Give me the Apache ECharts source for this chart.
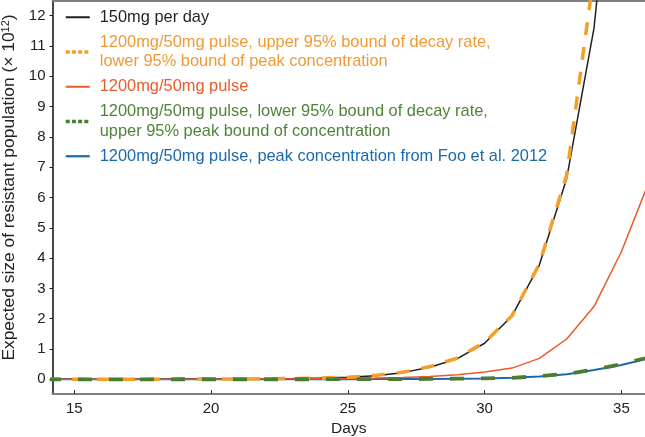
<!DOCTYPE html>
<html>
<head>
<meta charset="utf-8">
<script src="https://cdn.jsdelivr.net/npm/echarts@6/dist/echarts.min.js"></script>
<style>
html,body{margin:0;padding:0;background:#fff;}
#chart{width:645px;height:437px;}
</style>
</head>
<body>
<div id="chart"></div>
<script>
const days = [14,15,16,17,18,19,20,21,22,23,24,25,26,27,28,29,30,31,32,33,34,35,36];
const daily150 = [0.001,0.002,0.002,0.003,0.004,0.006,0.008,0.012,0.018,0.028,0.045,0.07,0.12,0.22,0.40,0.68,1.19,2.09,3.77,6.63,11.6,20.4,35.8];
const pulseUpperDecay = [0.001,0.002,0.002,0.003,0.004,0.006,0.008,0.012,0.018,0.028,0.045,0.07,0.13,0.23,0.42,0.70,1.22,2.10,3.80,6.75,13.4,24.0,42.0];
const pulse = [0.0,0.0,0.001,0.001,0.002,0.003,0.004,0.006,0.009,0.013,0.02,0.03,0.04,0.06,0.09,0.15,0.24,0.37,0.69,1.33,2.40,4.21,6.5];
const pulseLowerDecay = [0.0,0.0,0.0,0.0,0.0,0.001,0.001,0.001,0.002,0.002,0.003,0.004,0.006,0.008,0.012,0.02,0.03,0.05,0.10,0.18,0.32,0.50,0.72];
const pulseFoo = [0.0,0.0,0.0,0.0,0.0,0.001,0.001,0.001,0.002,0.002,0.003,0.004,0.006,0.008,0.012,0.02,0.03,0.05,0.09,0.17,0.31,0.47,0.69];
const seriesNames = [
  '150mg per day',
  '1200mg/50mg pulse, upper 95% bound of decay rate,\nlower 95% bound of peak concentration',
  '1200mg/50mg pulse',
  '1200mg/50mg pulse, lower 95% bound of decay rate,\nupper 95% peak bound of concentration',
  '1200mg/50mg pulse, peak concentration from Foo et al. 2012'
];
const xTicks = [15,20,25,30,35];

const colBlack = '#231f20', colOrange = '#f4a028', colRed = '#e95a2c', colGreen = '#4b7d31', colBlue = '#1a69ad';
const textOrange = '#ef9a36', textGreen = '#4e8438';
const font = '"Liberation Sans", Arial, Helvetica, sans-serif';

function pairs(ys){ return days.map((d,i)=>[d, ys[i]]); }

const chart = echarts.init(document.getElementById('chart'), null, {renderer:'canvas'});
chart.setOption({
  animation:false,
  backgroundColor:'#fff',
  textStyle:{fontFamily:font},
  grid:{left:52.5, right:0, top:1, bottom:43, containLabel:false, outerBoundsMode:'none'},
  legend:{
    orient:'vertical', left:59, top:2.5, itemWidth:24, itemHeight:12, itemGap:5.5,
    itemStyle:{opacity:0},
    textStyle:{fontFamily:font, fontSize:16.4, lineHeight:19.5, padding:[0,0,0,5]},
    data:[
      {name:seriesNames[0], textStyle:{color:colBlack}},
      {name:seriesNames[1], textStyle:{color:textOrange}, lineStyle:{type:[4,2.2], width:3.5}},
      {name:seriesNames[2], textStyle:{color:colRed}},
      {name:seriesNames[3], textStyle:{color:textGreen}, lineStyle:{type:[4,2.2], width:3.5}},
      {name:seriesNames[4], textStyle:{color:colBlue}, lineStyle:{width:2.2}}
    ]
  },
  xAxis:[{
    type:'value', min:14.203, max:35.863, minInterval:5, maxInterval:5, splitNumber:5,
    name:'Days', nameLocation:'middle', nameGap:26,
    nameTextStyle:{fontFamily:font, fontSize:15.5, color:'#222'},
    axisLine:{show:true, onZero:false, lineStyle:{color:'#808080', width:2}},
    axisTick:{show:true, inside:true, length:4, lineStyle:{color:'#333', width:1}},
    axisLabel:{show:true, showMinLabel:false, showMaxLabel:false, fontFamily:font, fontSize:15, color:'#222', margin:7,
      formatter:v=> xTicks.indexOf(Math.round(v*1000)/1000)>=0 ? String(v) : ''},
    splitLine:{show:false}
  },{
    type:'value', position:'top', min:14.203, max:35.863,
    axisLine:{show:true, onZero:false, lineStyle:{color:'#808080', width:2}},
    axisTick:{show:false}, axisLabel:{show:false}, splitLine:{show:false}
  }],
  yAxis:{
    type:'value', min:-0.485, max:12.485, minInterval:1, maxInterval:1, splitNumber:13,
    name:'Expected size of resistant population (× 10{sup|12})',
    nameLocation:'middle', nameGap:30,
    nameTextStyle:{fontFamily:font, fontSize:17.4, color:'#222', padding:[0,0,0,20],
      rich:{sup:{fontSize:11, fontFamily:font, color:'#222', verticalAlign:'bottom', padding:[0,0,7,0]}}},
    axisLine:{show:true, onZero:false, lineStyle:{color:'#1a1a1a', width:1.6}},
    axisTick:{show:true, length:3, lineStyle:{color:'#1a1a1a', width:1}},
    axisLabel:{showMinLabel:false, showMaxLabel:false, fontFamily:font, fontSize:15, color:'#222', margin:7,
      formatter:v=> Math.abs(v-Math.round(v))<1e-6 ? String(Math.round(v)) : ''},
    splitLine:{show:false}
  },
  series:[
    {name:seriesNames[0], type:'line', data:pairs(daily150), showSymbol:false, symbol:'none', z:3,
      lineStyle:{color:colBlack, width:1.5}, itemStyle:{color:colBlack}},
    {name:seriesNames[1], type:'line', data:pairs(pulseUpperDecay), showSymbol:false, symbol:'none', z:4,
      lineStyle:{color:colOrange, width:3.5, type:[13,12]}, itemStyle:{color:colOrange}},
    {name:seriesNames[2], type:'line', data:pairs(pulse), showSymbol:false, symbol:'none', z:3,
      lineStyle:{color:colRed, width:1.5}, itemStyle:{color:colRed}},
    {name:seriesNames[3], type:'line', data:pairs(pulseLowerDecay), showSymbol:false, symbol:'none', z:4,
      lineStyle:{color:colGreen, width:3.8, type:[14,17]}, itemStyle:{color:colGreen}},
    {name:seriesNames[4], type:'line', data:pairs(pulseFoo), showSymbol:false, symbol:'none', z:2,
      lineStyle:{color:colBlue, width:2}, itemStyle:{color:colBlue}}
  ]
});
</script>
</body>
</html>
